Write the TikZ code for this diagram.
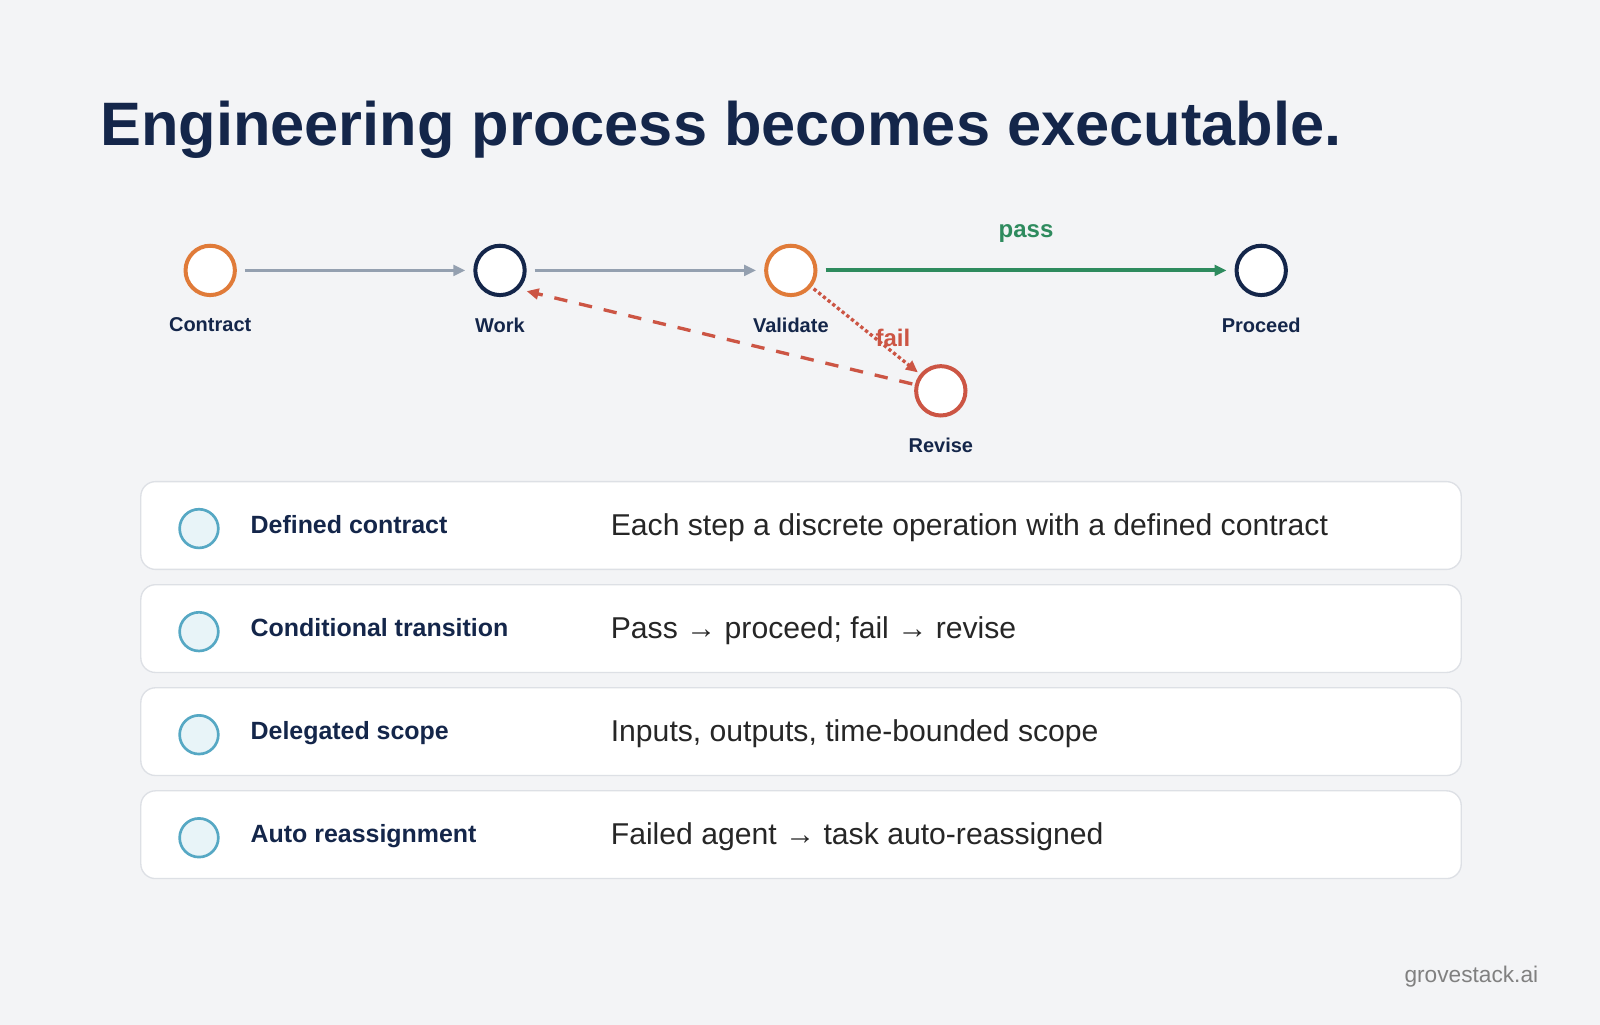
\documentclass[tikz,border=0pt]{standalone}
\usepackage{fontspec}
\setmainfont{Liberation Sans}
\usepackage{tikz}
\usetikzlibrary{arrows.meta,positioning}
\definecolor{bgGray}{HTML}{F3F4F6}
\definecolor{navy}{HTML}{14264A}
\definecolor{cOrange}{HTML}{E07B39}
\definecolor{cRed}{HTML}{CC5544}
\definecolor{cGreen}{HTML}{2E8B5E}
\definecolor{cSlate}{HTML}{94A0B0}
\definecolor{cTeal}{HTML}{56A8C4}
\definecolor{cTealFill}{HTML}{E8F4F8}
\definecolor{cardLine}{HTML}{DDE0E5}
\tikzset{
    >={Triangle[length=9pt,width=8pt]},
    step/.style={circle,draw=#1,line width=3pt,minimum size=37pt,inner sep=0pt,fill=white},
    steplabel/.style={font=\fontsize{15}{18}\selectfont\bfseries,text=navy},
    card/.style={draw=cardLine,line width=1pt,fill=white,rounded corners=11pt},
    bullet/.style={circle,draw=cTeal,line width=2pt,fill=cTealFill,minimum size=29pt,inner sep=0pt},
    cardhead/.style={anchor=base west,font=\fontsize{18.7}{22}\selectfont\bfseries,text=navy},
    cardtext/.style={anchor=base west,font=\fontsize{22.6}{26}\selectfont,text=black!85}
}
\begin{document}
\begin{tikzpicture}[x=0.765pt,y=-0.765pt]
    \fill[bgGray] (0,0) rectangle (1568,1004);
    \useasboundingbox (0,0) rectangle (1568,1004);

    \node[anchor=base west,font=\fontsize{46}{52}\selectfont\bfseries,text=navy,inner sep=0pt] (title) at (98,143) {Engineering process becomes executable.};

    % process steps
    \node[step=cOrange] (contract) at (206,265) {};
    \node[step=navy] (work) at (490,265) {};
    \node[step=cOrange] (validate) at (775,265) {};
    \node[step=navy] (proceed) at (1236,265) {};
    \node[step=cRed] (revise) at (922,383) {};
    \node[steplabel,below=12pt of contract] {Contract};
    \node[steplabel,below=12pt of work] {Work};
    \node[steplabel,below=12pt of validate] {Validate};
    \node[steplabel,below=12pt of proceed] {Proceed};
    \node[steplabel,below=12pt of revise] {Revise};

    \draw[cSlate,line width=2.5pt,->,shorten <=6pt,shorten >=6pt] (contract) -- (work);
    \draw[cSlate,line width=2.5pt,->,shorten <=6pt,shorten >=6pt] (work) -- (validate);
    \draw[cGreen,line width=3pt,->,shorten <=6pt,shorten >=6pt] (validate) -- node[above=16pt,font=\fontsize{18}{22}\selectfont\bfseries,text=cGreen] {pass} (proceed);
    \draw[cRed,line width=2.5pt,dotted,->,shorten <=2pt,shorten >=2pt] (validate) -- node[pos=0.75,above,font=\fontsize{18}{22}\selectfont\bfseries,text=cRed] {fail} (revise);
    \draw[cRed,line width=2.5pt,dash pattern=on 10pt off 9pt,->,shorten <=2pt,shorten >=6pt] (revise) -- (work.south east);

    % feature cards
    \foreach \y/\head/\desc [count=\i] in {
        515/Defined contract/Each step a discrete operation with a defined contract,
        616/Conditional transition/Pass → proceed; fail → revise,
        717/Delegated scope/{Inputs, outputs, time-bounded scope},
        818/Auto reassignment/Failed agent → task auto-reassigned} {
        \draw[card] (138,\y-43) rectangle (1432,\y+43);
        \node[bullet] (dot\i) at (195,\y+3) {};
        \node[cardhead] (head\i) at (241,\y+8) {\head};
        \node[cardtext] (desc\i) at (594,\y+10) {\desc};
    }

    \node[anchor=base east,font=\fontsize{17}{20}\selectfont,text=black!50] (brand) at (1512,963) {grovestack.ai};
\end{tikzpicture}
\end{document}
